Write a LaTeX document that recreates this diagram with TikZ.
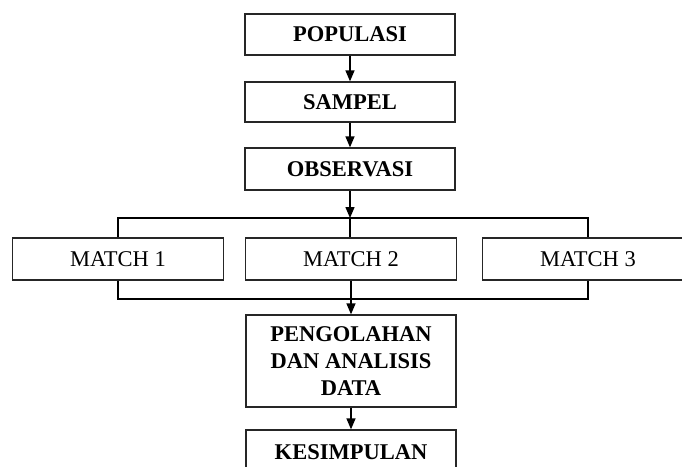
\documentclass[tikz,border=0pt]{standalone}
\usepackage{fontspec}
\setmainfont{Liberation Serif}
\usetikzlibrary{arrows.meta}
\begin{document}
\begin{tikzpicture}[x=1pt,y=-1pt,
  box/.style={draw=black!85, line width=1.3pt, minimum width=210pt, inner sep=0pt, align=center, font=\fontsize{22.5}{27}\selectfont\bfseries},
  mbox/.style={box, font=\fontsize{22.5}{27}\selectfont, minimum width=211pt, minimum height=42pt},
  conn/.style={line width=1.4pt},
  arr/.style={conn, -{Triangle[length=11pt,width=9pt]}}]
\useasboundingbox (0,0) rectangle (682,466);
\node[box, minimum height=41pt] (pop) at (350,34.5) {POPULASI};
\node[box, minimum height=40pt] (sam) at (350,102) {SAMPEL};
\node[box, minimum height=42pt] (obs) at (350,169) {OBSERVASI};
\node[mbox] (m1) at (118,259) {MATCH 1};
\node[mbox] (m2) at (351,259) {MATCH 2};
\node[mbox] (m3) at (588,259) {MATCH 3};
\node[box, minimum height=92pt] (peng) at (351,361) {PENGOLAHAN\\DAN ANALISIS\\DATA};
\node[box, minimum height=44pt] (kes) at (351,452) {KESIMPULAN};
\coordinate (top) at (350,218);
\coordinate (bot) at (351,299);
\draw[arr] (pop) -- (sam);
\draw[arr] (sam) -- (obs);
\draw[arr] (obs) -- (top);
\draw[conn] (m1.north) |- (top) -| (m3.north);
\draw[conn] (top) -- (top |- m2.north);
\draw[conn] (m1.south) |- (bot) -| (m3.south);
\draw[conn] (m2) -- (bot);
\draw[arr] (bot) -- (peng);
\draw[arr] (peng) -- (kes);
\end{tikzpicture}
\end{document}
